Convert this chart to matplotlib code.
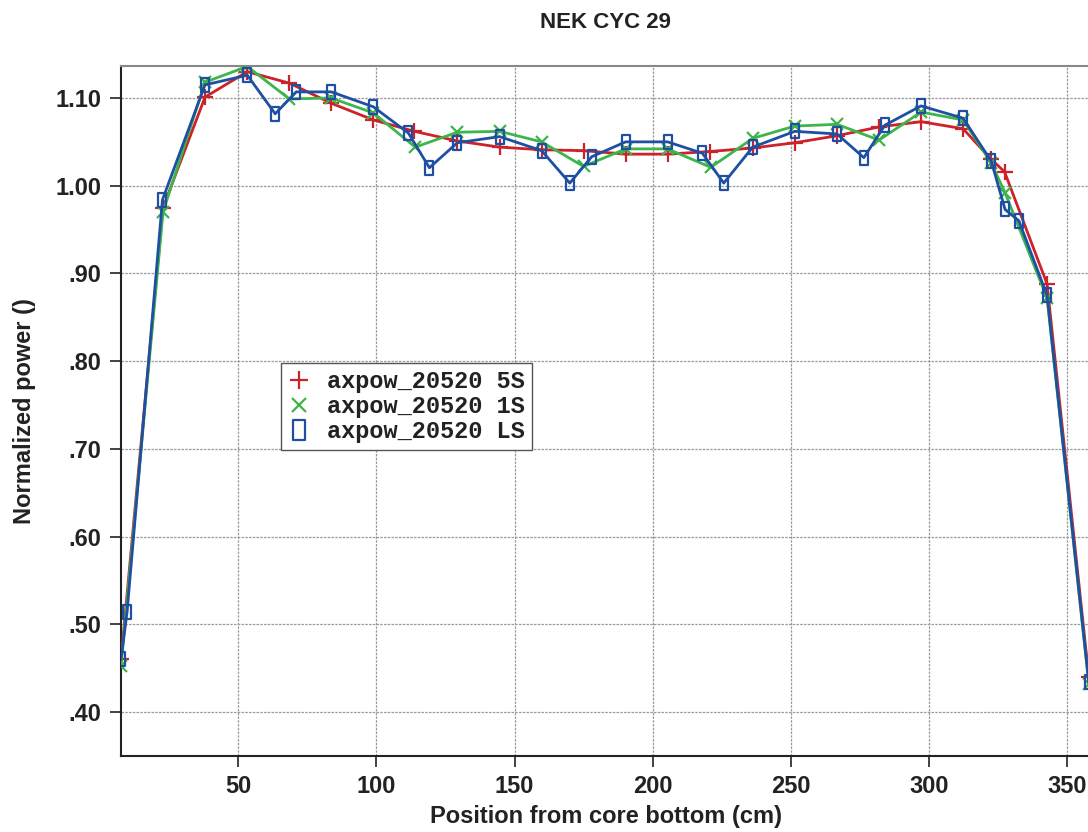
import matplotlib
matplotlib.use("Agg")
import matplotlib.pyplot as plt
from matplotlib.path import Path
from matplotlib.lines import Line2D
from matplotlib.ticker import FuncFormatter

# ---- data ----
x_5s = [7.6, 22.8, 38.0, 53.3, 68.5, 83.7, 98.9, 113.8, 129.3, 144.6, 159.8, 175.0,
        190.2, 205.4, 220.6, 236.2, 251.4, 266.7, 281.9, 297.1, 312.3, 322.5, 327.3,
        342.7, 357.8]
y_5s = [0.460, 0.975, 1.101, 1.130, 1.117, 1.094, 1.075, 1.062, 1.051, 1.044, 1.041, 1.040,
        1.036, 1.036, 1.039, 1.043, 1.049, 1.057, 1.067, 1.073, 1.065, 1.030, 1.016,
        0.888, 0.440]

x_1s = [7.6, 22.8, 38.0, 53.3, 68.5, 83.7, 98.9, 114.1, 129.3, 144.6, 159.8, 175.0,
        190.2, 205.4, 221.0, 236.2, 251.4, 266.7, 281.9, 297.1, 312.3, 322.5, 327.5,
        342.7, 357.8]
y_1s = [0.452, 0.970, 1.118, 1.136, 1.099, 1.100, 1.083, 1.044, 1.061, 1.062, 1.050, 1.022,
        1.042, 1.042, 1.021, 1.054, 1.068, 1.070, 1.052, 1.084, 1.075, 1.026, 0.992,
        0.872, 0.432]

x_ls = [7.6, 9.8, 22.6, 38.0, 53.3, 63.4, 71.0, 83.7, 98.9, 111.6, 119.2, 129.3, 144.6,
        159.8, 170.0, 177.9, 190.2, 205.4, 218.0, 225.7, 236.2, 251.4, 266.7, 276.4,
        284.0, 297.1, 312.3, 322.5, 327.5, 332.5, 342.7, 357.8]
y_ls = [0.460, 0.514, 0.984, 1.115, 1.126, 1.082, 1.107, 1.107, 1.090, 1.060, 1.0205, 1.049,
        1.056, 1.040, 1.003, 1.033, 1.050, 1.050, 1.037, 1.003, 1.044, 1.062, 1.059,
        1.032, 1.069, 1.091, 1.077, 1.028, 0.973, 0.960, 0.875, 0.434]

labels = ["axpow_20520 5S", "axpow_20520 1S", "axpow_20520 LS"]
x_ticks = [50, 100, 150, 200, 250, 300, 350]
y_ticks = [0.40, 0.50, 0.60, 0.70, 0.80, 0.90, 1.00, 1.10]

RED = "#cc2229"
GREEN = "#3db54a"
BLUE = "#1e4fa3"

sans = ["Liberation Sans Narrow", "Liberation Sans", "DejaVu Sans"]
mono = ["Liberation Mono", "DejaVu Sans Mono"]

rect = Path([(-0.3, -0.5), (0.3, -0.5), (0.3, 0.5), (-0.3, 0.5), (-0.3, -0.5)],
            [Path.MOVETO, Path.LINETO, Path.LINETO, Path.LINETO, Path.CLOSEPOLY])

fig = plt.figure(figsize=(10.88, 8.32), dpi=100)
ax = fig.add_axes([121 / 1088, 1 - 756 / 832, 1 - 121 / 1088 + 0.002, (756 - 66) / 832])

ax.plot(x_5s, y_5s, color=RED, lw=2, marker="+", ms=11, mew=1.6, zorder=3)
ax.plot(x_1s, y_1s, color=GREEN, lw=2, marker="x", ms=8, mew=1.6, zorder=4)
ax.plot(x_ls, y_ls, color=BLUE, lw=2, marker=rect, ms=10, mew=1.6, mfc="none", zorder=5)

ax.set_xlim(7.6, 358.3)
ax.set_ylim(0.3498, 1.1365)
ax.set_xticks(x_ticks)
ax.set_yticks(y_ticks)

def yfmt(v, pos):
    s = f"{v:.2f}"
    return s[1:] if s.startswith("0") else s
ax.yaxis.set_major_formatter(FuncFormatter(yfmt))

ax.grid(True, color="#9a9a9a", linestyle=(0, (2, 1)), lw=0.9)
ax.set_axisbelow(True)
ax.tick_params(direction="out", length=8, width=1.2, color="#222222", pad=6)
for lab in ax.get_xticklabels() + ax.get_yticklabels():
    lab.set_family(sans)
    lab.set_fontweight("bold")
    lab.set_fontsize(17)
    lab.set_color("#222222")

ax.spines["left"].set_color("#222222")
ax.spines["bottom"].set_color("#222222")
ax.spines["left"].set_linewidth(1.5)
ax.spines["bottom"].set_linewidth(1.5)
ax.spines["top"].set_color("#888888")
ax.spines["top"].set_linewidth(1.5)
ax.spines["right"].set_visible(False)

ax.set_xlabel("Position from core bottom (cm)", family=sans, fontweight="bold",
              fontsize=17, color="#222222", labelpad=5)
ax.set_ylabel("Normalized power ()", family=sans, fontweight="bold",
              fontsize=17, color="#222222", labelpad=14)
fig.text(605 / 1088, 1 - 22 / 832, "NEK CYC 29", family=sans, fontweight="bold",
         fontsize=16, color="#222222", ha="center", va="center")

handles = [
    Line2D([], [], color=RED, ls="none", marker="+", ms=13, mew=1.6),
    Line2D([], [], color=GREEN, ls="none", marker="x", ms=10, mew=1.6),
    Line2D([], [], color=BLUE, ls="none", marker=rect, ms=14, mew=1.6, mfc="none"),
]
leg = ax.legend(handles, labels, loc="upper left",
                bbox_to_anchor=((281 - 121) / 967, (756 - 363) / 690),
                borderaxespad=0, frameon=True, fancybox=False, framealpha=1,
                edgecolor="#555555", handlelength=0.9, handletextpad=0.75,
                labelspacing=0.08, borderpad=0.3,
                prop={"family": mono, "weight": "bold", "size": 17})
leg.get_frame().set_linewidth(1.0)
for t in leg.get_texts():
    t.set_color("#222222")

fig.savefig("out.png", dpi=100)
